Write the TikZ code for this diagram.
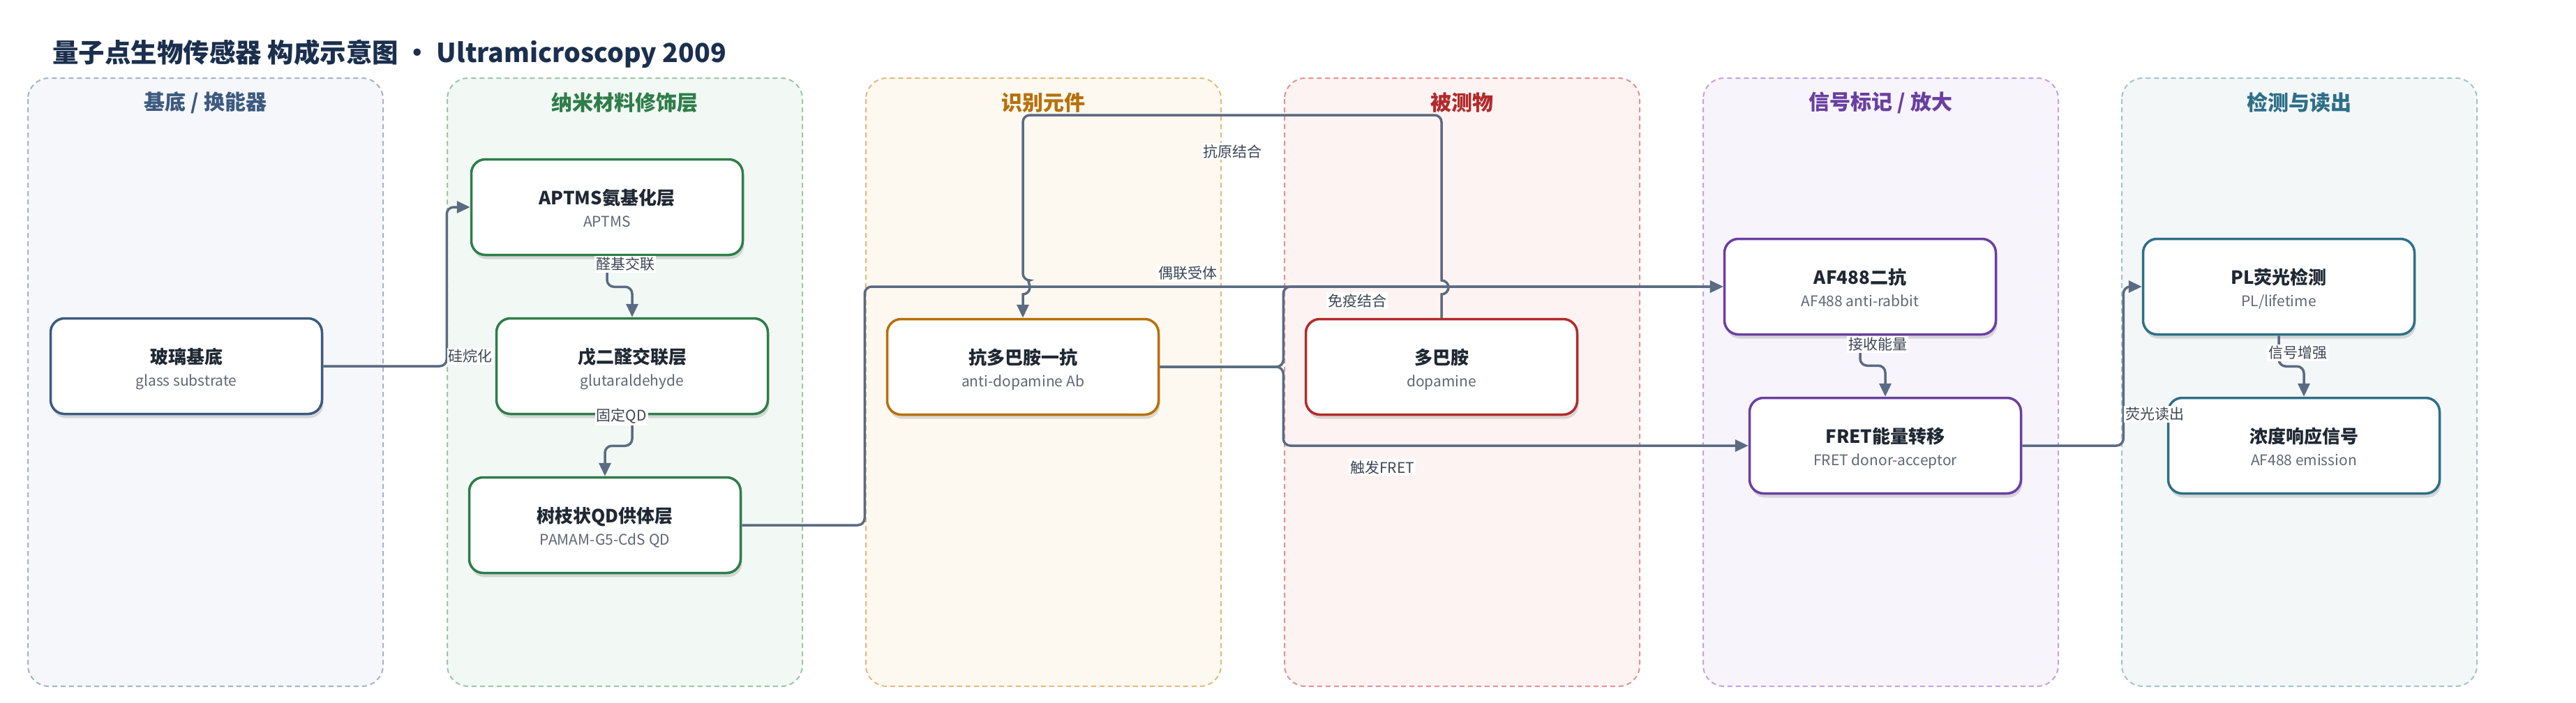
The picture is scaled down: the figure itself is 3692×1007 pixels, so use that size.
\documentclass[tikz,border=0pt]{standalone}
\usepackage{fontspec}
\setmainfont{Noto Sans CJK SC}
\usetikzlibrary{arrows.meta,shadows}
\definecolor{titlec}{HTML}{1B2F4E}
\definecolor{edgec}{HTML}{5A6B82}
\definecolor{labc}{HTML}{3D4654}
\definecolor{subc}{HTML}{5F6775}
\definecolor{darkt}{HTML}{1F2833}
\definecolor{cA}{HTML}{3D5A80}\definecolor{fA}{HTML}{F5F7FB}\definecolor{bA}{HTML}{A6B3C8}
\definecolor{cB}{HTML}{2E7D4A}\definecolor{fB}{HTML}{F2F8F4}\definecolor{bB}{HTML}{9DC6A9}
\definecolor{cC}{HTML}{B8700A}\definecolor{fC}{HTML}{FDF8F0}\definecolor{bC}{HTML}{E2BA7C}
\definecolor{cD}{HTML}{B22A2A}\definecolor{fD}{HTML}{FDF3F2}\definecolor{bD}{HTML}{E29292}
\definecolor{cE}{HTML}{6A3FA0}\definecolor{fE}{HTML}{F7F4FB}\definecolor{bE}{HTML}{C2A4DC}
\definecolor{cF}{HTML}{2E6F88}\definecolor{fF}{HTML}{F3F7F8}\definecolor{bF}{HTML}{A2C4CE}
\newcommand\mylane[6]{%
  \draw[lanest, fill=#3, draw=#4] (#2,112) rectangle ++(509,872);
  \node[lanehead, text=#5] (#1) at (#2+254.5,147) {#6};
}
\newcommand\mybox[6]{%
  \node[boxst, draw=#4] (#1) at (#2,#3) {};
  \node[btitle, anchor=base] (#1-t) at ([yshift=4pt]#1.center) {#5};
  \node[bsub, anchor=base] (#1-s) at ([yshift=-28pt]#1.center) {#6};
}
\begin{document}
\begin{tikzpicture}[x=1pt,y=-1pt,
  lanest/.style={line width=2pt, dash pattern=on 7pt off 5pt, rounded corners=30pt},
  lanehead/.style={font=\fontsize{30}{36}\selectfont\bfseries, inner sep=0pt},
  boxst/.style={rounded corners=20pt, line width=3.5pt, fill=white, minimum width=389pt, minimum height=137pt,
    drop shadow={shadow xshift=2pt, shadow yshift=-6pt, opacity=0.13, fill=black}},
  btitle/.style={font=\fontsize{26}{30}\selectfont\bfseries, text=darkt, inner sep=0pt},
  bsub/.style={font=\fontsize{21}{25}\selectfont, text=subc, inner sep=0pt},
  edge/.style={draw=edgec, line width=3.5pt, rounded corners=10pt, -{Triangle[length=19pt,width=17pt]}},
  elabel/.style={font=\fontsize{21}{25}\selectfont, text=labc, fill=white, inner sep=2pt},
]
\path[use as bounding box] (0,0) rectangle (3692,1007);
\node[anchor=base west, font=\fontsize{37.5}{44}\selectfont\bfseries, text=titlec, inner sep=0pt] (title) at (75,89)
  {量子点生物传感器 构成示意图 · Ultramicroscopy 2009};
% lanes
\mylane{hA}{40}{fA}{bA}{cA}{基底 / 换能器}
\mylane{hB}{641}{fB}{bB}{cB}{纳米材料修饰层}
\mylane{hC}{1241}{fC}{bC}{cC}{识别元件}
\mylane{hD}{1841}{fD}{bD}{cD}{被测物}
\mylane{hE}{2441}{fE}{bE}{cE}{信号标记 / 放大}
\mylane{hF}{3041}{fF}{bF}{cF}{检测与读出}
% boxes
\mybox{glass}{267}{525}{cA}{玻璃基底}{glass substrate}
\mybox{aptms}{870}{297}{cB}{APTMS氨基化层}{APTMS}
\mybox{glut}{906}{525}{cB}{戊二醛交联层}{glutaraldehyde}
\mybox{pamam}{867}{753}{cB}{树枝状QD供体层}{PAMAM-G5-CdS QD}
\mybox{ab}{1466}{526}{cC}{抗多巴胺一抗}{anti-dopamine Ab}
\mybox{dopa}{2066}{526}{cD}{多巴胺}{dopamine}
\mybox{af}{2666}{411}{cE}{AF488二抗}{AF488 anti-rabbit}
\mybox{fret}{2702}{639}{cE}{FRET能量转移}{FRET donor-acceptor}
\mybox{pl}{3266}{411}{cF}{PL荧光检测}{PL/lifetime}
\mybox{conc}{3302}{639}{cF}{浓度响应信号}{AF488 emission}
% edges
\draw[edge] (glass.east) -- ++(177,0) |- (aptms.west);
\draw[edge] (aptms.south) -- ++(0,44) -| (glut.north);
\draw[edge] (glut.south) -- ++(0,44) -| (pamam.north);
\draw[edge] (pamam.east) -- ++(176,0) |- (af.west);
\draw[edge] (ab.east) -- ++(177,0) |- (af.west);
\draw[edge] (ab.east) -- ++(177,0) |- (fret.west);
\draw[edge, rounded corners=0pt] (dopa.north) -- (2066,422) arc[start angle=-90, end angle=90, radius=10pt]
  [rounded corners=10pt] -- (2066,165) -- (1466,165) -- (1466,402) [sharp corners]
  arc[start angle=90, end angle=-90, radius=10pt] -- (ab.north);
\draw[edge] (af.south) -- ++(0,43) -| (fret.north);
\draw[edge] (fret.east) -- ++(145,0) |- (pl.west);
\draw[edge] (pl.south) -- ++(0,44) -| (conc.north);
% edge labels
\node[elabel] (l1) at (674,511) {硅烷化};
\node[elabel] (l2) at (896,379) {醛基交联};
\node[elabel] (l3) at (891,597) {固定QD};
\node[elabel] (l4) at (1702,392) {偶联受体};
\node[elabel] (l5) at (1945,431) {免疫结合};
\node[elabel] (l6) at (1981,670) {触发FRET};
\node[elabel] (l7) at (1766,217) {抗原结合};
\node[elabel] (l8) at (2691,494) {接收能量};
\node[elabel] (l9) at (3088,594) {荧光读出};
\node[elabel] (l10) at (3293,506) {信号增强};
\end{tikzpicture}
\end{document}
